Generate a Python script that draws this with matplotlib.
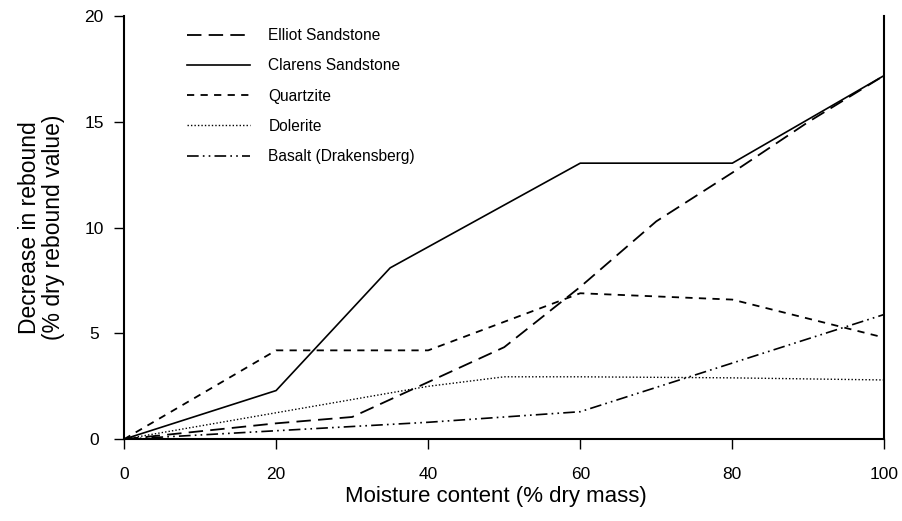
import matplotlib.pyplot as plt

plt.rcParams['font.family'] = ['Liberation Sans', 'DejaVu Sans']

# moisture content (% dry mass) and decrease in rebound (% dry rebound value)
elliot_x = [0, 20, 30, 50, 60, 70, 80, 90, 100]
elliot_y = [0, 0.75, 1.05, 4.35, 7.2, 10.3, 12.6, 15.0, 17.2]

clarens_x = [0, 20, 35, 60, 80, 100]
clarens_y = [0, 2.3, 8.1, 13.05, 13.05, 17.2]

quartzite_x = [0, 20, 40, 60, 80, 100]
quartzite_y = [0, 4.2, 4.2, 6.9, 6.6, 4.8]

dolerite_x = [0, 20, 40, 50, 60, 80, 100]
dolerite_y = [0, 1.25, 2.5, 2.95, 2.95, 2.9, 2.8]

basalt_x = [0, 20, 40, 50, 60, 80, 100]
basalt_y = [0, 0.4, 0.8, 1.05, 1.3, 3.6, 5.9]

fig = plt.figure(figsize=(9.02, 5.21), dpi=100)
ax = fig.add_axes([0.1375, 0.157, 0.843, 0.812])

ax.plot(elliot_x, elliot_y, color='black', lw=1.3, linestyle=(0, (8, 4)),
        label='Elliot Sandstone')
ax.plot(clarens_x, clarens_y, color='black', lw=1.2, linestyle='-',
        label='Clarens Sandstone')
ax.plot(quartzite_x, quartzite_y, color='black', lw=1.3, linestyle=(0, (4, 3.5)),
        label='Quartzite')
ax.plot(dolerite_x, dolerite_y, color='black', lw=1.0, linestyle=(0, (1, 1.5)),
        label='Dolerite')
ax.plot(basalt_x, basalt_y, color='black', lw=1.2,
        linestyle=(0, (7, 2.5, 1, 2.5, 1, 2.5)), label='Basalt (Drakensberg)')

ax.set_xlim(0, 100)
ax.set_ylim(0, 20)
ax.set_xticks([0, 20, 40, 60, 80, 100])
ax.set_yticks([0, 5, 10, 15, 20])
ax.tick_params(direction='out', length=7, width=1.0, labelsize=12.5)
ax.tick_params(axis='x', pad=13)
ax.tick_params(axis='y', pad=14.5)
# y tick numbers sit centred in a column left of the axis
for lbl in ax.get_yticklabels():
    lbl.set_horizontalalignment('center')

ax.spines['top'].set_visible(False)
for side in ['left', 'bottom', 'right']:
    ax.spines[side].set_linewidth(1.5)

ax.set_xlabel('Moisture content (% dry mass)', fontsize=16, labelpad=3)
ax.xaxis.label.set_x(0.489)
ax.set_ylabel('Decrease in rebound\n(% dry rebound value)', fontsize=16.5,
              labelpad=14, linespacing=1.05)

ax.legend(loc='upper left', bbox_to_anchor=(0.065, 1.005), frameon=False,
          fontsize=11.2, handlelength=4.0, handletextpad=1.2, labelspacing=0.98)

fig.savefig('out.png', dpi=100)
